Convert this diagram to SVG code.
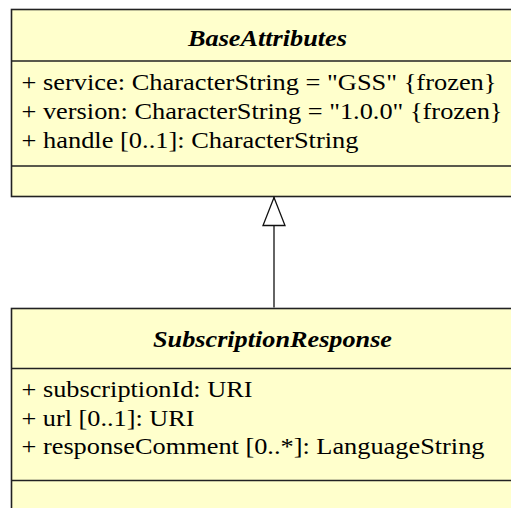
<svg xmlns="http://www.w3.org/2000/svg" width="511" height="508" viewBox="0 0 511 508">
<defs>
<style>
.box{fill:#FFFFCC;stroke:#222;stroke-width:1.6}
.div{stroke:#222;stroke-width:1.6}
.t{font-family:"Liberation Serif","Times New Roman",serif;font-size:23px;fill:#000}
.title{font-weight:bold;font-style:italic;text-anchor:middle}
.conn{stroke:#111;stroke-width:1.3;fill:none}
.head{fill:#fff;stroke:#111;stroke-width:1.3}
</style>
</defs>
<rect width="511" height="508" fill="#fff"/>
<g id="BaseAttributes">
<rect class="box" x="11.5" y="9.5" width="520" height="187"/>
<line class="div" x1="11.5" y1="61" x2="531.5" y2="61"/>
<line class="div" x1="11.5" y1="166" x2="531.5" y2="166"/>
<text class="t title" x="267.5" y="46" textLength="159" lengthAdjust="spacingAndGlyphs">BaseAttributes</text>
<text class="t" x="21.5" y="90" textLength="475" lengthAdjust="spacingAndGlyphs">+ service: CharacterString = "GSS" {frozen}</text>
<text class="t" x="21.5" y="119" textLength="481" lengthAdjust="spacingAndGlyphs">+ version: CharacterString = "1.0.0" {frozen}</text>
<text class="t" x="21.5" y="148" textLength="337" lengthAdjust="spacingAndGlyphs">+ handle [0..1]: CharacterString</text>
</g>
<g id="SubscriptionResponse">
<rect class="box" x="11.5" y="308.5" width="520" height="220"/>
<line class="div" x1="11.5" y1="368.5" x2="531.5" y2="368.5"/>
<line class="div" x1="11.5" y1="480.5" x2="531.5" y2="480.5"/>
<text class="t title" x="272.5" y="346.5" textLength="239" lengthAdjust="spacingAndGlyphs">SubscriptionResponse</text>
<text class="t" x="21.5" y="397" textLength="231" lengthAdjust="spacingAndGlyphs">+ subscriptionId: URI</text>
<text class="t" x="21.5" y="425.5" textLength="173" lengthAdjust="spacingAndGlyphs">+ url [0..1]: URI</text>
<text class="t" x="21.5" y="454" textLength="463" lengthAdjust="spacingAndGlyphs">+ responseComment [0..*]: LanguageString</text>
</g>
<g id="connectors">
<line class="conn" x1="274" y1="307.5" x2="274" y2="197"/>
<path class="head" d="M274,197.5 L285,225.5 L263,225.5 Z"/>
</g>
</svg>
